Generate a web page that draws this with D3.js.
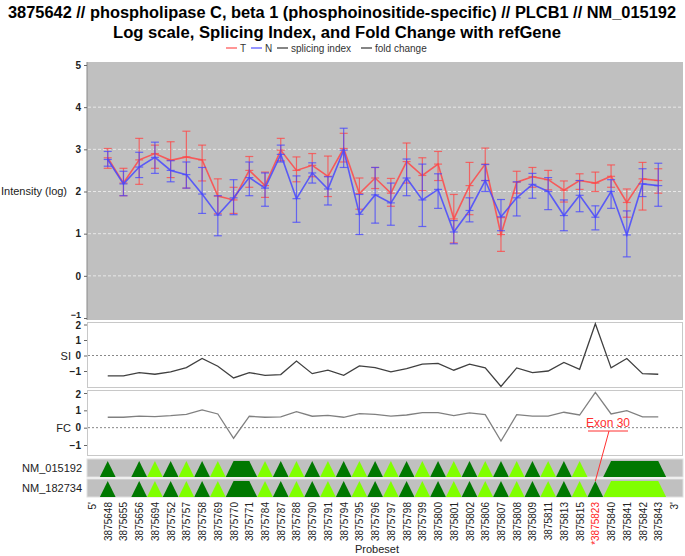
<!DOCTYPE html>
<html><head><meta charset="utf-8">
<script src="https://cdn.jsdelivr.net/npm/d3@7/dist/d3.min.js"></script>
<style>body{margin:0;background:#fff}svg{display:block}text{font-family:"Liberation Sans",Arial,sans-serif}</style>
</head><body><svg id="c" width="685" height="556"></svg>
<script>
const probes = ["3875648","3875655","3875656","3875694","3875752","3875757","3875758","3875769","3875770","3875771","3875784","3875787","3875788","3875790","3875791","3875794","3875795","3875796","3875797","3875798","3875799","3875800","3875801","3875802","3875806","3875807","3875808","3875809","3875811","3875813","3875815","3875823","3875840","3875841","3875842","3875843"];
const tMean = [2.80,2.20,2.75,2.90,2.74,2.82,2.75,1.89,1.80,2.50,2.14,2.98,2.50,2.62,2.36,3.02,1.95,2.32,1.96,2.71,2.38,2.65,1.35,2.14,2.65,0.98,2.22,2.35,2.28,2.03,2.26,2.20,2.36,1.74,2.30,2.26];
const tHi = [3.02,2.55,3.26,3.10,3.18,3.43,3.10,2.30,2.10,2.83,2.46,3.26,2.82,2.90,2.84,3.38,2.32,2.57,2.31,3.15,2.80,2.95,1.93,2.69,3.03,1.38,2.48,2.57,2.50,2.25,2.42,2.46,2.63,2.06,2.69,2.54];
const tLo = [2.55,1.90,2.17,2.55,2.33,2.08,2.25,1.47,1.48,2.10,1.86,2.73,2.23,2.35,1.88,2.70,1.58,2.07,1.65,2.20,2.02,2.26,0.78,1.45,2.26,0.58,1.96,2.10,2.04,1.75,2.05,2.00,2.10,1.39,1.56,1.96];
const nMean = [2.76,2.18,2.58,2.81,2.50,2.40,1.94,1.44,1.85,2.33,2.08,2.88,1.83,2.44,2.06,2.98,1.46,1.92,1.73,2.32,1.80,2.05,1.04,1.55,2.26,1.40,1.85,2.17,2.00,1.43,1.91,1.39,2.00,0.97,2.18,2.14];
const nHi = [2.95,2.48,2.93,3.17,2.73,2.70,2.57,1.90,2.28,2.70,2.44,3.10,2.37,2.68,2.35,3.50,1.93,2.57,2.20,2.77,2.65,2.42,1.31,1.85,2.64,1.81,2.23,2.43,2.33,1.80,2.26,1.66,2.28,1.54,2.54,2.67];
const nLo = [2.60,1.90,2.33,2.43,2.23,2.08,1.48,0.95,1.45,1.90,1.65,2.70,1.27,2.20,1.68,2.57,0.98,1.25,1.20,1.90,1.17,1.60,0.76,1.28,2.00,1.07,1.42,1.84,1.57,1.07,1.52,1.09,1.60,0.45,1.88,1.65];
const splicingIndex = [-1.32,-1.32,-1.10,-1.21,-1.06,-0.78,-0.19,-0.69,-1.45,-1.10,-1.28,-1.23,-0.36,-1.17,-0.95,-1.28,-0.67,-0.78,-1.06,-0.84,-0.56,-0.51,-0.95,-0.56,-0.80,-2.00,-0.80,-1.10,-1.00,-0.45,-0.89,2.05,-0.80,-0.19,-1.17,-1.21];
const foldChange = [0.60,0.60,0.67,0.64,0.69,0.77,1.02,0.79,-0.61,0.66,0.60,0.62,0.92,0.66,0.71,0.60,0.81,0.77,0.67,0.73,0.87,0.87,0.69,0.85,0.75,-0.77,0.75,0.67,0.67,0.89,0.73,2.04,0.79,0.98,0.62,0.62];
const mainTicks = [-1,0,1,2,3,4,5];
const smallTicks = [-1,0,1,2];
const transcripts = ["NM_015192","NM_182734"];
// exon blocks: [first probe index, last probe index, shade]
const exons015192 = [[0,0,"d"],[2,2,"d"],[3,3,"l"],[4,4,"d"],[5,5,"l"],[6,6,"d"],[7,7,"l"],[8,9,"d"],[10,10,"l"],[11,11,"d"],[12,12,"l"],[13,13,"d"],[14,14,"l"],[15,15,"d"],[16,16,"l"],[17,17,"d"],[18,18,"l"],[19,19,"d"],[20,20,"l"],[21,21,"d"],[22,22,"l"],[23,23,"d"],[24,24,"l"],[25,25,"d"],[26,26,"l"],[27,27,"d"],[28,28,"l"],[29,29,"d"],[30,30,"l"],[32,35,"d"]];
const exons182734 = [[0,0,"d"],[2,2,"d"],[3,3,"l"],[4,4,"d"],[5,5,"l"],[6,6,"d"],[7,7,"l"],[8,9,"d"],[10,10,"l"],[11,11,"d"],[12,12,"l"],[13,13,"d"],[14,14,"l"],[15,15,"d"],[16,16,"l"],[17,17,"d"],[18,18,"l"],[19,19,"d"],[20,20,"l"],[21,21,"d"],[22,22,"l"],[23,23,"d"],[24,24,"l"],[25,25,"d"],[26,26,"l"],[27,27,"d"],[28,28,"l"],[29,29,"d"],[30,30,"l"],[31,31,"d"],[32,35,"l"]];
const highlightProbe = "3875823";
const annotationText = "Exon 30";

const svg = d3.select("#c");
const L = 87, R = 683;
const x = d3.scalePoint().domain(["5'", ...probes, "3'"]).range([92, 674]);
const yMain = d3.scaleLinear().domain([-1,5]).range([318,65]);
const ySI = d3.scaleLinear().domain([-2,2]).range([386.5,324.5]);
const yFC = d3.scaleLinear().domain([-1,2]).range([445,393]);

// titles
svg.append("text").attr("x",342).attr("y",18).attr("text-anchor","middle").attr("font-size",16).attr("font-weight","bold").attr("fill","#000")
  .attr("textLength",668).attr("lengthAdjust","spacingAndGlyphs")
  .text("3875642 // phospholipase C, beta 1 (phosphoinositide-specific) // PLCB1 // NM_015192");
svg.append("text").attr("x",337).attr("y",38).attr("text-anchor","middle").attr("font-size",16).attr("font-weight","bold").attr("fill","#000")
  .attr("textLength",448).attr("lengthAdjust","spacingAndGlyphs")
  .text("Log scale, Splicing Index, and Fold Change with refGene");

// legend
const legendItems = [{c:"#ff5050",t:"T",x:226},{c:"#5050ff",t:"N",x:251},{c:"#333",t:"splicing index",x:277},{c:"#333",t:"fold change",x:361}];
const lg = svg.append("g");
legendItems.forEach(d=>{
  lg.append("line").attr("x1",d.x).attr("x2",d.x+11).attr("y1",48).attr("y2",48).attr("stroke",d.c).attr("stroke-width",1.2);
  lg.append("text").attr("x",d.x+14).attr("y",52).attr("font-size",10).attr("fill","#333").text(d.t);
});

// main plot
svg.append("rect").attr("x",L).attr("y",62).attr("width",R-L).attr("height",258).attr("fill","#c0c0c0");
svg.append("line").attr("x1",L).attr("x2",L).attr("y1",62).attr("y2",320).attr("stroke","#888");
const gMainGrid = svg.append("g");
gMainGrid.selectAll("line").data(mainTicks.filter(t=>t>-1 && t<5)).join("line")
  .attr("x1",L+1).attr("x2",R).attr("y1",d=>yMain(d)).attr("y2",d=>yMain(d))
  .attr("stroke","#e8e8e8").attr("stroke-dasharray","3,2");
const axMain = svg.append("g").attr("transform",`translate(${L},0)`)
  .call(d3.axisLeft(yMain).tickValues(mainTicks).tickSize(3).tickFormat(d3.format("d")));
axMain.select(".domain").remove();
axMain.selectAll("text").attr("font-size",10).attr("font-weight","bold").attr("fill","#222").attr("font-family","Liberation Sans, Arial");
axMain.selectAll(".tick line").attr("stroke","#666");
axMain.selectAll(".tick").filter(d=>d===-1).select("text").attr("dy","-0.05em").attr("font-size",9);
svg.append("text").attr("x",1).attr("y",195).attr("font-size",11).attr("fill","#222").text("Intensity (log)");

const series = [
  {m:tMean,hi:tHi,lo:tLo,c:"#ff4848",ec:"rgba(255,70,70,0.75)"},
  {m:nMean,hi:nHi,lo:nLo,c:"#4848ff",ec:"rgba(70,70,255,0.75)"}
];
series.forEach(s=>{
  const g = svg.append("g");
  probes.forEach((p,i)=>{
    const cx = x(p);
    g.append("line").attr("x1",cx).attr("x2",cx).attr("y1",yMain(s.hi[i])).attr("y2",yMain(s.lo[i])).attr("stroke",s.ec).attr("stroke-width",1.2);
    [s.hi[i],s.lo[i],s.m[i]].forEach(v=>{
      g.append("line").attr("x1",cx-4).attr("x2",cx+4).attr("y1",yMain(v)).attr("y2",yMain(v)).attr("stroke",s.ec).attr("stroke-width",1.2);
    });
  });
  g.append("path").datum(s.m).attr("fill","none").attr("stroke",s.c).attr("stroke-width",1.6).attr("stroke-opacity",0.85)
    .attr("d",d3.line().x((d,i)=>x(probes[i])).y(d=>yMain(d)));
});

// small panels
function panel(y0,y1,yScale,vals,label,color){
  svg.append("rect").attr("x",L+0.5).attr("y",y0+0.5).attr("width",R-L-1).attr("height",y1-y0).attr("fill","#fff").attr("stroke","#c8c8c8");
  svg.append("line").attr("x1",L+1).attr("x2",R-1).attr("y1",yScale(0)).attr("y2",yScale(0)).attr("stroke","#888").attr("stroke-dasharray","2,2");
  const ax = svg.append("g").attr("transform",`translate(${L},0)`).call(d3.axisLeft(yScale).tickValues(smallTicks).tickSize(3).tickFormat(d3.format("d")));
  ax.select(".domain").remove();
  ax.selectAll("text").attr("font-size",10).attr("font-weight","bold").attr("fill","#222").attr("font-family","Liberation Sans, Arial");
  ax.selectAll(".tick line").attr("stroke","#666");
  ax.selectAll(".tick").filter(d=>d===2).select("text").attr("dy","0.42em");
  svg.append("text").attr("x",71).attr("y",yScale(0)+4).attr("text-anchor","end").attr("font-size",11).attr("fill","#222").text(label);
  svg.append("path").datum(vals).attr("fill","none").attr("stroke",color).attr("stroke-width",1.3)
    .attr("d",d3.line().x((d,i)=>x(probes[i])).y(d=>yScale(d)));
}
panel(322,387,ySI,splicingIndex,"SI","#404040");
panel(390,455,yFC,foldChange,"FC","#808080");

// transcript tracks
const tracks = [{name:transcripts[0],ex:exons015192,y:459},{name:transcripts[1],ex:exons182734,y:479}];
const half = (x(probes[1])-x(probes[0]))/2;
tracks.forEach(t=>{
  svg.append("rect").attr("x",L).attr("y",t.y).attr("width",R-L).attr("height",18).attr("fill","#c0c0c0").attr("stroke","#e0e0e0");
  svg.append("text").attr("x",82).attr("y",t.y+13).attr("text-anchor","end").attr("font-size",11).attr("fill","#222").text(t.name);
  t.ex.forEach(([a,b,s])=>{
    const xa = x(probes[a]), xb = x(probes[b]);
    const pts = [[xa-half,t.y+18],[xa,t.y+2],[xb,t.y+2],[xb+half,t.y+18]];
    svg.append("path").attr("d",d3.line()(pts)+"Z").attr("fill",s==="d"?"#007800":"#80ff00");
  });
});

// x labels
const xl = svg.append("g");
x.domain().forEach(p=>{
  const isH = p===highlightProbe;
  xl.append("text").attr("transform",`translate(${x(p)+4},502) rotate(-90)`).attr("text-anchor","end")
    .attr("font-size",10).attr("fill",isH?"#ff2020":"#222").text(isH?"*"+p:p);
});
svg.append("text").attr("x",377).attr("y",553).attr("text-anchor","middle").attr("font-size",11).attr("fill","#222").text("Probeset");

// annotation
const ax31 = x(highlightProbe);
svg.append("text").attr("x",608).attr("y",427).attr("text-anchor","middle").attr("font-size",12).attr("fill","#ff3030").text(annotationText);
svg.append("line").attr("x1",588).attr("x2",628).attr("y1",431).attr("y2",431).attr("stroke","#ff3030");
svg.append("line").attr("x1",609).attr("x2",ax31).attr("y1",431).attr("y2",481).attr("stroke","#ff3030");
</script></body></html>
